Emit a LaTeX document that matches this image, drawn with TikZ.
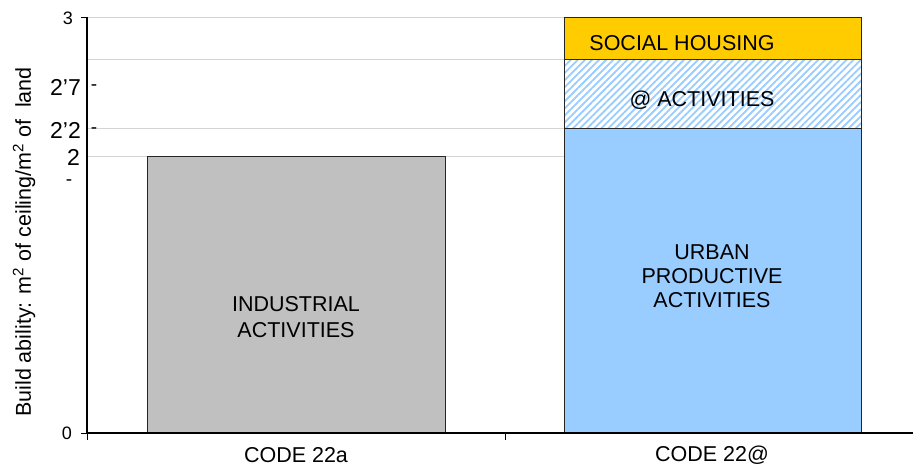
\documentclass[tikz,border=0pt]{standalone}
\usepackage{fontspec}
\setmainfont{Liberation Sans}
\usetikzlibrary{patterns.meta}

\definecolor{barGrey}{HTML}{C0C0C0}
\definecolor{barBlue}{HTML}{99CCFF}
\definecolor{barGold}{HTML}{FFCC00}
\definecolor{gridGrey}{HTML}{D4D4D4}

\begin{document}
\begin{tikzpicture}[x=1pt,y=-1pt,
            bar/.style={draw=black!85, line width=0.9pt},
            barlabel/.style={font=\fontsize{21.5}{25.5}\selectfont, align=center},
            smalltick/.style={font=\fontsize{18}{20}\selectfont, anchor=east, inner sep=0pt},
            bigtick/.style={font=\fontsize{23}{25}\selectfont, anchor=east, inner sep=0pt},
            dashmark/.style={font=\fontsize{19}{20}\selectfont, inner sep=0pt}]

            \useasboundingbox (0,0) rectangle (913,468);

            % grid lines
            \foreach \gy in {17,59,128,156}
                \draw[gridGrey, line width=0.9pt] (87,\gy) -- (564,\gy);

            % bars
            \draw[bar, fill=barGrey] (147,156) rectangle (445,433);
            \draw[bar, fill=barBlue] (564,128) rectangle (861,433);
            \fill[white] (564,59) rectangle (861,128);
            \draw[bar, pattern={Lines[angle=45,distance=5pt,line width=1.8pt]}, pattern color=barBlue]
                (564,59) rectangle (861,128);
            \draw[bar, fill=barGold] (564,17) rectangle (861,59);

            % axes
            \coordinate (yTop) at (87,17);
            \coordinate (origin) at (87,433);
            \coordinate (xEnd) at (913,433);
            \draw[line width=1.1pt] (yTop) -- (origin) -- (xEnd);
            \draw[line width=0.9pt] (81,17) -- (yTop);
            \draw[line width=0.9pt] (81,433) -- (origin);
            \draw[line width=0.9pt] (origin) -- ++(0,7);
            \draw[line width=0.9pt] (505,433) -- ++(0,7);

            % tick labels
            \node[smalltick] (t3) at (73,18) {3};
            \node[bigtick] (t27) at (81,87) {2'7};
            \node[dashmark] (d27) at (94,88) {-};
            \node[bigtick] (t22) at (81,130) {2'2};
            \node[dashmark] (d22) at (94,131) {-};
            \node[bigtick] (t2) at (80,157) {2};
            \node[dashmark] (d2) at (69,183) {-};
            \node[smalltick] (t0) at (72,433) {0};

            % bar texts
            \node[barlabel] (industrial) at (296,317) {INDUSTRIAL\\ACTIVITIES};
            \node[barlabel, text depth=0pt] (urban) at (712,276) {URBAN\\[-1.5pt]PRODUCTIVE\\[-1.5pt]ACTIVITIES};
            \node[barlabel] (atact) at (702,100) {@ ACTIVITIES};
            \node[barlabel] (social) at (682,43) {SOCIAL HOUSING};

            % axis titles
            \node[barlabel] (code22a) at (296,455) {CODE 22a};
            \node[barlabel] (code22at) at (712,455) {CODE 22@};
            \node[barlabel, rotate=90] (ytitle) at (24,242) {Build ability: m\textsuperscript{2} of ceiling/m\textsuperscript{2} of\ \ land};
        \end{tikzpicture}
\end{document}
